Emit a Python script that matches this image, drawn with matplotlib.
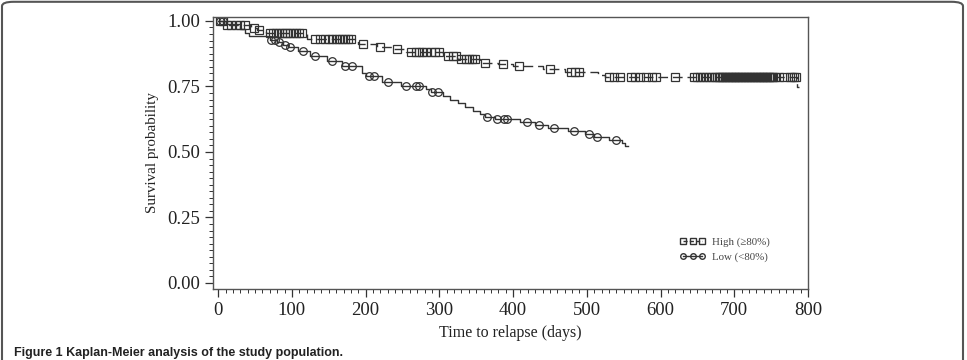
import numpy as np
import matplotlib
matplotlib.use('Agg')
import matplotlib.pyplot as plt
from matplotlib.lines import Line2D
from matplotlib.patches import FancyBboxPatch
from matplotlib.ticker import MultipleLocator

# Kaplan-Meier steps: event time (days) and survival after it
high_event_t = [8, 45, 52, 65, 120, 190, 215, 238, 255, 305, 325, 355, 380, 400, 440, 470, 515, 525, 785]
high_event_s = [0.985, 0.973, 0.966, 0.954, 0.931, 0.912, 0.900, 0.893, 0.882, 0.865, 0.855, 0.840,
                0.836, 0.828, 0.817, 0.805, 0.795, 0.786, 0.748]
high_end = 788
high_censor = [2, 6, 12, 18, 24, 30, 36, 48, 55, 70, 74, 78, 82, 86, 90, 94, 98, 102, 106, 110, 114,
               132, 138, 145, 150, 155, 160, 164, 168, 172, 176, 180, 196, 220, 243, 262, 268, 272,
               276, 282, 288, 294, 300, 312, 318, 322, 330, 336, 340, 344, 348, 362, 386, 408, 450,
               478, 484, 490, 530, 537, 545, 560, 566, 572, 580, 588, 594, 620, 645, 649, 653, 657,
               662, 666, 670, 674, 677, 679, 681, 683, 685, 687, 689, 691, 693, 695, 697, 699, 701,
               703, 705, 707, 709, 711, 713, 715, 717, 719, 721, 723, 725, 727, 729, 731, 733, 735,
               737, 739, 741, 743, 745, 747, 749, 751, 753, 755, 760, 768, 775, 778, 781, 784]

low_event_t = [10, 30, 36, 42, 70, 80, 88, 95, 108, 125, 148, 168, 195, 200, 222, 248, 282, 288, 305,
               315, 325, 335, 345, 355, 362, 376, 410, 430, 448, 475, 498, 510, 530, 548, 552]
low_event_s = [0.990, 0.970, 0.955, 0.943, 0.927, 0.918, 0.910, 0.900, 0.884, 0.866, 0.847, 0.828,
               0.800, 0.790, 0.767, 0.753, 0.740, 0.727, 0.714, 0.700, 0.686, 0.672, 0.658, 0.645,
               0.634, 0.624, 0.614, 0.604, 0.592, 0.580, 0.568, 0.557, 0.545, 0.533, 0.523]
low_end = 556
low_censor = [3, 7, 72, 77, 83, 90, 97, 115, 131, 154, 172, 182, 205, 211, 230, 255, 268, 273, 290,
              298, 364, 378, 388, 392, 419, 435, 455, 482, 503, 514, 539]

labels = ['High (\u226580%)', 'Low (<80%)']
ink = '#333333'

plt.rcParams['font.family'] = ['Liberation Serif', 'DejaVu Serif']

fig = plt.figure(figsize=(9.67, 3.6), dpi=100)
ax = fig.add_axes([213 / 967, 1 - 289 / 360, 595 / 967, 272 / 360])


def km_curve(ev_t, ev_s, end, cens, ls, mk, dashes=None):
    t = [0] + ev_t + [end]
    s = [1.0] + ev_s + [ev_s[-1]]
    line, = ax.step(t, s, where='post', color=ink, lw=1.0, ls=ls)
    if dashes:
        line.set_dashes(dashes)
    # censor marks sit on the curve at the censoring time
    idx = np.searchsorted(ev_t, cens, side='right')
    cs = np.array([1.0] + ev_s)[idx]
    ax.plot(cens, cs, ls='none', marker=mk, ms=5.5, mfc='none', mec=ink, mew=0.9)


km_curve(high_event_t, high_event_s, high_end, high_censor, '--', 's', dashes=(7, 3.5))
km_curve(low_event_t, low_event_s, low_end, low_censor, '-', 'o')

ax.set_xlim(-7, 800)
ax.set_ylim(-0.023, 1.015)
ax.set_xticks(range(0, 801, 100))
ax.set_yticks([0, 0.25, 0.5, 0.75, 1.0])
ax.set_yticklabels(['0.00', '0.25', '0.50', '0.75', '1.00'])
ax.xaxis.set_minor_locator(MultipleLocator(10))
ax.yaxis.set_minor_locator(MultipleLocator(0.025))
ax.tick_params(which='major', length=6, width=0.9, colors=ink, labelsize=13.5, labelcolor='#222222')
ax.tick_params(which='minor', length=3, width=0.7, colors=ink)
for sp in ax.spines.values():
    sp.set_color('#555555')
    sp.set_linewidth(1.0)

ax.set_xlabel('Time to relapse (days)', fontsize=11.5, color='#222222', labelpad=4)
ax.set_ylabel('Survival probability', fontsize=10.8, color='#222222', labelpad=6)

handles = [Line2D([], [], color=ink, lw=1.0, ls=(0, (3, 1.5)), marker='s', ms=4.5, mfc='none', mec=ink),
           Line2D([], [], color=ink, lw=1.0, ls='-', marker='o', ms=4, mfc='none', mec=ink)]
ax.legend(handles, labels, loc='lower left', bbox_to_anchor=(0.768, 0.065), frameon=False,
          numpoints=3, handlelength=2.4, handletextpad=0.6, fontsize=7.8, labelspacing=0.45,
          labelcolor='#444444')

# outer rounded frame of the figure panel
frame = FancyBboxPatch((2 / 967, -0.2), 961 / 967, 1.195, boxstyle='round,pad=0,rounding_size=0.012',
                       transform=fig.transFigure, fill=False, ec='#555555', lw=1.5)
fig.patches.append(frame)

fig.text(14 / 967, 1 - 347 / 360, 'Figure 1 Kaplan-Meier analysis of the study population.',
         fontsize=9, fontweight='bold', family=['Liberation Sans', 'DejaVu Sans'],
         color='#222222', va='top', ha='left')

fig.savefig('out.png', dpi=100)
